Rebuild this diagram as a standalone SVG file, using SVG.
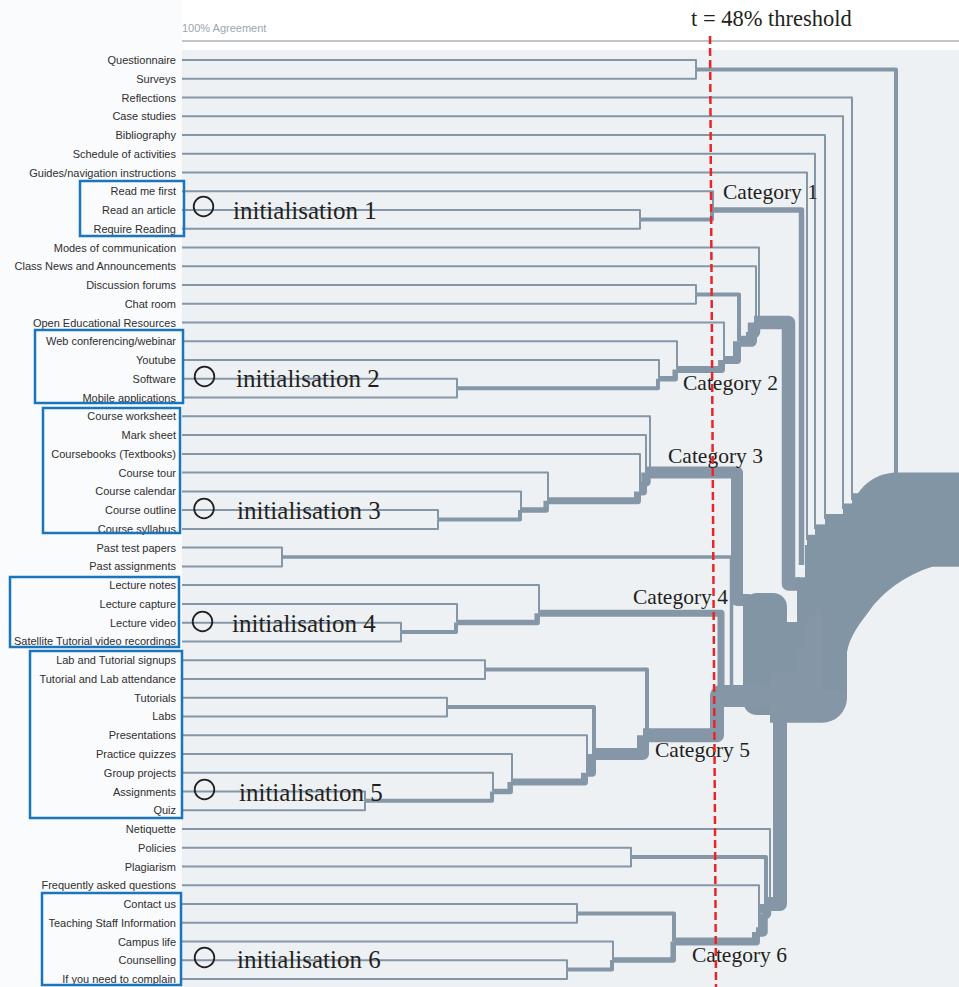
<svg xmlns="http://www.w3.org/2000/svg" width="959" height="987" viewBox="0 0 959 987">
<style>
.lbl{font-family:"Liberation Sans",Arial,sans-serif;font-size:11px;fill:#2e2e2e;text-anchor:end}
.ann{font-family:"Liberation Serif","Times New Roman",serif;fill:#231f20}
.cat{font-size:21.5px}
.ini{font-size:25px}
.c{fill:none;stroke:#8597a7;stroke-linejoin:round}
.t{stroke-width:2}
.band{fill:none;stroke:#8295a5;stroke-linecap:butt}
.root{fill:none;stroke:#8295a5;stroke-linecap:round}
.fillb{fill:#8295a5}
.box{fill:none;stroke:#1b75bc;stroke-width:2.5}
.ring{fill:none;stroke:#231f20;stroke-width:1.8}
</style>
<rect x="0" y="0" width="959" height="987" fill="#ffffff"/>
<rect x="0" y="0" width="182" height="987" fill="#fafbfd"/>
<rect x="182" y="50" width="777" height="937" fill="#eef1f4"/>
<g id="axis">
<line x1="182" y1="41" x2="959" y2="41" stroke="#aab4bd" stroke-width="1.5"/>
<text x="182" y="32" style="font-family:'Liberation Sans',Arial,sans-serif;font-size:11px;fill:#9aa6b2">100% Agreement</text>
</g>
<g id="connectors">
<path class="c t" d="M182 60 H696 V69.4"/>
<path class="c t" d="M182 78.8 H696 V69.4"/>
<path class="c t" d="M182 97.5 H852 V500"/>
<path class="c t" d="M182 116.3 H843 V509"/>
<path class="c t" d="M182 135 H825 V519"/>
<path class="c t" d="M182 153.8 H815 V529"/>
<path class="c t" d="M182 172.5 H807 V540"/>
<path class="c t" d="M182 191.3 H713 V210"/>
<path class="c t" d="M182 210 H640 V219.4"/>
<path class="c t" d="M182 228.8 H640 V219.4"/>
<path class="c t" d="M182 247.6 H759 V322.6"/>
<path class="c t" d="M182 266.3 H756 V332"/>
<path class="c t" d="M182 285.1 H696 V294.4"/>
<path class="c t" d="M182 303.8 H696 V294.4"/>
<path class="c t" d="M182 322.6 H724 V360"/>
<path class="c t" d="M182 341.3 H677 V369.5"/>
<path class="c t" d="M182 360.1 H659 V378.8"/>
<path class="c t" d="M182 378.8 H457 V388.2"/>
<path class="c t" d="M182 397.6 H457 V388.2"/>
<path class="c t" d="M182 416.3 H650 V472.6"/>
<path class="c t" d="M182 435.1 H646 V482"/>
<path class="c t" d="M182 453.9 H640 V491.4"/>
<path class="c t" d="M182 472.6 H548 V500.7"/>
<path class="c t" d="M182 491.4 H521 V510"/>
<path class="c t" d="M182 510.1 H438 V519.5"/>
<path class="c t" d="M182 528.9 H438 V519.5"/>
<path class="c t" d="M182 547.6 H282 V557"/>
<path class="c t" d="M182 566.4 H282 V557"/>
<path class="c t" d="M182 585.1 H539 V613.3"/>
<path class="c t" d="M182 603.9 H457 V622.6"/>
<path class="c t" d="M182 622.7 H401 V632"/>
<path class="c t" d="M182 641.4 H401 V632"/>
<path class="c t" d="M182 660.2 H485 V669.5"/>
<path class="c t" d="M182 678.9 H485 V669.5"/>
<path class="c t" d="M182 697.7 H447 V707"/>
<path class="c t" d="M182 716.4 H447 V707"/>
<path class="c t" d="M182 735.2 H587 V772.7"/>
<path class="c t" d="M182 753.9 H512 V782"/>
<path class="c t" d="M182 772.7 H493 V791.4"/>
<path class="c t" d="M182 791.5 H365 V800.8"/>
<path class="c t" d="M182 810.2 H365 V800.8"/>
<path class="c t" d="M182 829 H770 V904"/>
<path class="c t" d="M182 847.7 H631 V857.1"/>
<path class="c t" d="M182 866.5 H631 V857.1"/>
<path class="c t" d="M182 885.2 H759 V932"/>
<path class="c t" d="M182 904 H577 V913.4"/>
<path class="c t" d="M182 922.7 H577 V913.4"/>
<path class="c t" d="M182 941.5 H613 V960"/>
<path class="c t" d="M182 960.2 H567 V969.6"/>
<path class="c t" d="M182 979 H567 V969.6"/>
<path class="c" stroke-width="4" d="M640 219.4 H712 V210"/>
<path class="c" stroke-width="4" d="M696 69.4 H896 V485"/>
<path class="c" stroke-width="5.5" d="M713 210 H801.5 V565"/>
<path class="c" stroke-width="4" d="M457 388.2 H658 V378.8"/>
<path class="c" stroke-width="5.5" d="M659 378.8 H675.2 V369.5"/>
<path class="c" stroke-width="7" d="M677 369.5 H721.5 V360"/>
<path class="c" stroke-width="8" d="M724 360 H737 V341.3"/>
<path class="c" stroke-width="4" d="M696 294.4 H739 V341.3"/>
<path class="c" stroke-width="11" d="M740 341.3 H751.5 V332"/>
<path class="c" stroke-width="12.5" d="M751.5 332 H754 V322.6"/>
<path class="c" stroke-width="13.5" d="M754 322.6 H788.5 V584 H800"/>
<path class="c" stroke-width="4" d="M438 519.5 H520 V510"/>
<path class="c" stroke-width="5.5" d="M521 510 H546.2 V500.7"/>
<path class="c" stroke-width="7" d="M548 500.7 H637.5 V491.4"/>
<path class="c" stroke-width="8" d="M640 491.4 H643 V482"/>
<path class="c" stroke-width="9.5" d="M643 482 H646 V472.6"/>
<path class="c" stroke-width="12" d="M646 472.6 H737 V600 H750"/>
<path class="c" stroke-width="3.5" d="M282 557 H731.5 V688"/>
<path class="c" stroke-width="4" d="M401 632 H456 V622.6"/>
<path class="c" stroke-width="5.5" d="M457 622.6 H537.2 V613.3"/>
<path class="c" stroke-width="7" d="M539 613.3 H721 V690"/>
<path class="c" stroke-width="4" d="M365 800.8 H492 V791.4"/>
<path class="c" stroke-width="5.5" d="M493 791.4 H510.2 V782"/>
<path class="c" stroke-width="7" d="M512 782 H584.5 V772.7"/>
<path class="c" stroke-width="8" d="M587 772.7 H592 V754"/>
<path class="c" stroke-width="4" d="M447 707 H594 V754"/>
<path class="c" stroke-width="12" d="M592 754 H643 V735.2"/>
<path class="c" stroke-width="4" d="M485 669.5 H647 V735.2"/>
<path class="c" stroke-width="14" d="M643 735.2 H717 V697"/>
<path class="c" stroke-width="4" d="M567 969.6 H612 V960"/>
<path class="c" stroke-width="5.5" d="M612 960 H673.2 V941.5"/>
<path class="c" stroke-width="4" d="M577 913.4 H674 V941.5"/>
<path class="c" stroke-width="8" d="M674 941.5 H756 V932"/>
<path class="c" stroke-width="9.5" d="M756 932 H763 V913.4"/>
<path class="c" stroke-width="4" d="M631 857.1 H766 V913.4"/>
<path class="c" stroke-width="12.5" d="M763 913.4 H765 V904"/>
<path class="c" stroke-width="14" d="M765 904 H780 V700"/>
<rect class="fillb" x="743" y="593" width="44" height="122" rx="14"/>
<rect class="fillb" x="784" y="622" width="16" height="76"/>
<path class="c" stroke-width="22" stroke-linecap="round" d="M721 696 H760"/>
<path class="c" stroke-width="50" d="M770 697.7 H822 V585"/>
<path class="band" stroke-width="72" d="M797 613.3 H805"/>
<path class="band" stroke-width="80" d="M805 585.1 H807"/>
<path class="band" stroke-width="82" d="M807 575.8 H815"/>
<path class="band" stroke-width="84" d="M815 566.4 H825"/>
<path class="band" stroke-width="86" d="M825 557 H843"/>
<path class="band" stroke-width="88" d="M843 547.6 H852"/>
<path class="band" stroke-width="90" d="M852 538.3 H897"/>
<path class="root" stroke-width="94" d="M897 519.5 H1010"/>
<path class="fillb" d="M959 560 L959 566.5 L933 566.5 C905 575 882 593 870 610 C858 626 850 636 847 652 L847 690 L822 690 L822 560 Z"/>
</g>
<g id="leaf-labels">
<g id="n0"><text class="lbl" x="176" y="64">Questionnaire</text></g>
<g id="n1"><text class="lbl" x="176" y="82.8">Surveys</text></g>
<g id="n2"><text class="lbl" x="176" y="101.5">Reflections</text></g>
<g id="n3"><text class="lbl" x="176" y="120.3">Case studies</text></g>
<g id="n4"><text class="lbl" x="176" y="139">Bibliography</text></g>
<g id="n5"><text class="lbl" x="176" y="157.8">Schedule of activities</text></g>
<g id="n6"><text class="lbl" x="176" y="176.5">Guides/navigation instructions</text></g>
<g id="n7"><text class="lbl" x="176" y="195.3">Read me first</text></g>
<g id="n8"><text class="lbl" x="176" y="214">Read an article</text></g>
<g id="n9"><text class="lbl" x="176" y="232.8">Require Reading</text></g>
<g id="n10"><text class="lbl" x="176" y="251.6">Modes of communication</text></g>
<g id="n11"><text class="lbl" x="176" y="270.3">Class News and Announcements</text></g>
<g id="n12"><text class="lbl" x="176" y="289.1">Discussion forums</text></g>
<g id="n13"><text class="lbl" x="176" y="307.8">Chat room</text></g>
<g id="n14"><text class="lbl" x="176" y="326.6">Open Educational Resources</text></g>
<g id="n15"><text class="lbl" x="176" y="345.3">Web conferencing/webinar</text></g>
<g id="n16"><text class="lbl" x="176" y="364.1">Youtube</text></g>
<g id="n17"><text class="lbl" x="176" y="382.8">Software</text></g>
<g id="n18"><text class="lbl" x="176" y="401.6">Mobile applications</text></g>
<g id="n19"><text class="lbl" x="176" y="420.3">Course worksheet</text></g>
<g id="n20"><text class="lbl" x="176" y="439.1">Mark sheet</text></g>
<g id="n21"><text class="lbl" x="176" y="457.9">Coursebooks (Textbooks)</text></g>
<g id="n22"><text class="lbl" x="176" y="476.6">Course tour</text></g>
<g id="n23"><text class="lbl" x="176" y="495.4">Course calendar</text></g>
<g id="n24"><text class="lbl" x="176" y="514.1">Course outline</text></g>
<g id="n25"><text class="lbl" x="176" y="532.9">Course syllabus</text></g>
<g id="n26"><text class="lbl" x="176" y="551.6">Past test papers</text></g>
<g id="n27"><text class="lbl" x="176" y="570.4">Past assignments</text></g>
<g id="n28"><text class="lbl" x="176" y="589.1">Lecture notes</text></g>
<g id="n29"><text class="lbl" x="176" y="607.9">Lecture capture</text></g>
<g id="n30"><text class="lbl" x="176" y="626.7">Lecture video</text></g>
<g id="n31"><text class="lbl" x="176" y="645.4">Satellite Tutorial video recordings</text></g>
<g id="n32"><text class="lbl" x="176" y="664.2">Lab and Tutorial signups</text></g>
<g id="n33"><text class="lbl" x="176" y="682.9">Tutorial and Lab attendance</text></g>
<g id="n34"><text class="lbl" x="176" y="701.7">Tutorials</text></g>
<g id="n35"><text class="lbl" x="176" y="720.4">Labs</text></g>
<g id="n36"><text class="lbl" x="176" y="739.2">Presentations</text></g>
<g id="n37"><text class="lbl" x="176" y="757.9">Practice quizzes</text></g>
<g id="n38"><text class="lbl" x="176" y="776.7">Group projects</text></g>
<g id="n39"><text class="lbl" x="176" y="795.5">Assignments</text></g>
<g id="n40"><text class="lbl" x="176" y="814.2">Quiz</text></g>
<g id="n41"><text class="lbl" x="176" y="833">Netiquette</text></g>
<g id="n42"><text class="lbl" x="176" y="851.7">Policies</text></g>
<g id="n43"><text class="lbl" x="176" y="870.5">Plagiarism</text></g>
<g id="n44"><text class="lbl" x="176" y="889.2">Frequently asked questions</text></g>
<g id="n45"><text class="lbl" x="176" y="908">Contact us</text></g>
<g id="n46"><text class="lbl" x="176" y="926.7">Teaching Staff Information</text></g>
<g id="n47"><text class="lbl" x="176" y="945.5">Campus life</text></g>
<g id="n48"><text class="lbl" x="176" y="964.2">Counselling</text></g>
<g id="n49"><text class="lbl" x="176" y="983">If you need to complain</text></g>
</g>
<g id="init-1"><rect class="box" x="80" y="181" width="104" height="55"/><circle class="ring" cx="203.5" cy="206.5" r="9.8"/><text class="ann ini" x="233" y="219">initialisation 1</text></g>
<g id="init-2"><rect class="box" x="35" y="330" width="148" height="73"/><circle class="ring" cx="204.5" cy="376.5" r="9.8"/><text class="ann ini" x="236" y="387">initialisation 2</text></g>
<g id="init-3"><rect class="box" x="43" y="408" width="137" height="125"/><circle class="ring" cx="204" cy="508.5" r="9.8"/><text class="ann ini" x="237" y="519">initialisation 3</text></g>
<g id="init-4"><rect class="box" x="10" y="577" width="169" height="70"/><circle class="ring" cx="202.5" cy="621.5" r="9.8"/><text class="ann ini" x="232" y="632">initialisation 4</text></g>
<g id="init-5"><rect class="box" x="30" y="651" width="152" height="167"/><circle class="ring" cx="204.5" cy="789.5" r="9.8"/><text class="ann ini" x="239" y="801">initialisation 5</text></g>
<g id="init-6"><rect class="box" x="42" y="893" width="139" height="92"/><circle class="ring" cx="204.5" cy="957.5" r="9.8"/><text class="ann ini" x="237" y="968">initialisation 6</text></g>
<g id="cat-1"><text class="ann cat" x="723" y="199">Category 1</text></g>
<g id="cat-2"><text class="ann cat" x="683" y="390">Category 2</text></g>
<g id="cat-3"><text class="ann cat" x="668" y="463">Category 3</text></g>
<g id="cat-4"><text class="ann cat" x="633" y="604">Category 4</text></g>
<g id="cat-5"><text class="ann cat" x="655" y="757">Category 5</text></g>
<g id="cat-6"><text class="ann cat" x="692" y="962">Category 6</text></g>
<g id="threshold">
<line x1="710" y1="36" x2="716" y2="987" stroke="#e8262a" stroke-width="2.5" stroke-dasharray="8 4"/>
<text class="ann" x="691" y="26" style="font-size:22.5px">t = 48% threshold</text>
</g>
</svg>
